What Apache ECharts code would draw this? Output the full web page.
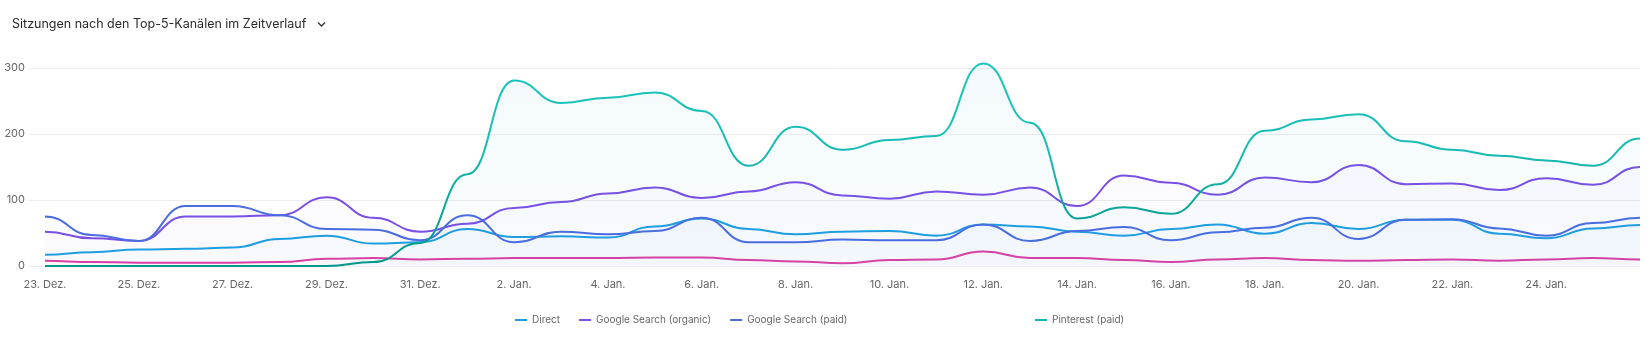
<!DOCTYPE html>
<html>
<head>
<meta charset="utf-8">
<script src="https://cdn.jsdelivr.net/npm/echarts@6/dist/echarts.min.js"></script>
<style>
html,body{margin:0;padding:0;background:#fff;}
#chart{width:1651px;height:337px;}
</style>
</head>
<body>
<div id="chart"></div>
<script>
const titleText = 'Sitzungen nach den Top-5-Kanälen im Zeitverlauf';
const categories = ['23. Dez.','24. Dez.','25. Dez.','26. Dez.','27. Dez.','28. Dez.','29. Dez.','30. Dez.','31. Dez.',
  '1. Jan.','2. Jan.','3. Jan.','4. Jan.','5. Jan.','6. Jan.','7. Jan.','8. Jan.','9. Jan.','10. Jan.','11. Jan.',
  '12. Jan.','13. Jan.','14. Jan.','15. Jan.','16. Jan.','17. Jan.','18. Jan.','19. Jan.','20. Jan.','21. Jan.',
  '22. Jan.','23. Jan.','24. Jan.','25. Jan.','26. Jan.'];
const yTicks = [0, 100, 200, 300];

const direct   = [17,21,25,26,28,41,46,34,36,56,44,45,43,60,72,56,48,52,53,46,63,60,52,46,56,63,49,65,56,70,70,49,42,57,62];
const organic  = [52,42,38,75,75,77,104,73,52,64,88,97,110,119,103,113,127,107,102,113,108,119,91,137,126,108,134,127,153,124,125,115,133,123,150];
const paid     = [75,47,38,91,91,77,56,55,39,77,36,52,48,53,73,36,36,40,39,39,63,38,53,59,39,51,58,73,41,70,71,57,46,65,73];
const other    = [8,6,5,5,5,6,11,12,10,11,12,12,12,13,13,9,7,4,9,10,22,12,12,9,6,10,12,9,8,9,10,8,10,12,10];
const pinterest= [0,0,0,0,0,0,0,6,35,139,281,247,255,263,235,152,211,176,191,197,307,217,72,89,79,124,205,222,230,189,176,167,160,152,193];

const names = ['Direct','Google Search (organic)','Google Search (paid)','Sonstige','Pinterest (paid)'];
const colors = ['#1d9fe0','#7a4fe4','#4a6ce0','#d940a5','#14b8b0'];
const values = [direct, organic, paid, other, pinterest];

const chart = echarts.init(document.getElementById('chart'), null, {renderer:'canvas'});
const font = 'Inter, "Noto Sans", sans-serif';

function makeRender(vals, idx){
  return function(params, api){
    if (params.dataIndex !== 0) return null;
    const pts = vals.map((v,i)=>api.coord([i, v]));
    let d = 'M' + pts[0][0] + ',' + pts[0][1];
    for (let i = 1; i < pts.length; i++) {
      const p0 = pts[i-1], p1 = pts[i];
      const mx = (p0[0] + p1[0]) / 2;
      d += ' C' + mx + ',' + p0[1] + ' ' + mx + ',' + p1[1] + ' ' + p1[0] + ',' + p1[1];
    }
    const base = api.coord([0, yTicks[0]])[1];
    const top = api.coord([0, yTicks[yTicks.length-1]])[1];
    const areaD = d + ' L' + pts[pts.length-1][0] + ',' + base + ' L' + pts[0][0] + ',' + base + ' Z';
    const c = colors[idx];
    let stroke = c;
    let fill = new echarts.graphic.LinearGradient(0, top, 0, base, [
      {offset:0, color: echarts.color.modifyAlpha(c, 0.045)},
      {offset:1, color: echarts.color.modifyAlpha(c, 0.012)}], true);
    if (idx === 4) {
      stroke = new echarts.graphic.LinearGradient(0, top, 0, base, [
        {offset:0, color:'#1cc6be'},
        {offset:0.4, color:'#17bcb4'},
        {offset:0.65, color:'#0fa99e'},
        {offset:1, color:'#00968a'}], true);
      fill = new echarts.graphic.LinearGradient(0, top, 0, base, [
        {offset:0, color:'rgba(40,165,215,0.05)'},
        {offset:1, color:'rgba(40,165,215,0.02)'}], true);
    }
    return {type:'group', children:[
      {type:'path', shape:{pathData: areaD}, style:{fill: fill, stroke: null}, silent:true},
      {type:'path', shape:{pathData: d}, style:{fill: null, stroke: stroke, lineWidth: 2, lineJoin:'round'}, silent:true}
    ]};
  };
}

const series = values.map((v,i)=>({
  name: names[i], type:'custom', xAxisIndex:1, yAxisIndex:1,
  data: v.map((y,j)=>[j, y]), encode:{x:0, y:1},
  renderItem: makeRender(v, i),
  itemStyle:{color: colors[i]},
  clip:false, z: 2 + i
}));

const legendText = {fontFamily:font, fontSize:10, color:'#666'};
chart.setOption({
  animation:false,
  backgroundColor:'#fff',
  title:{text:titleText, left:12, top:16, padding:0,
    textStyle:{fontFamily:font, fontSize:12.5, fontWeight:'normal', color:'#2a2a2a', lineHeight:16}},
  graphic:[{type:'polyline', shape:{points:[[318,22.5],[321.5,26],[325,22.5]]}, style:{stroke:'#333', lineWidth:1.3, fill:null}}],
  legend:[
    {data:[0,1,2].map(i=>({name:names[i], itemStyle:{color:colors[i]}})), left:515, top:315, padding:0,
     itemWidth:12, itemHeight:2, icon:'rect', itemGap:19, textStyle:legendText},
    {data:[{name:names[4], itemStyle:{color:colors[4]}}], left:1035, top:315, padding:0,
     itemWidth:12, itemHeight:2, icon:'rect', textStyle:legendText}
  ],
  grid:[
    {left:29, right:11, top:68, bottom:71},
    {left:45, right:11, top:68, bottom:71}
  ],
  xAxis:[
    {type:'value', gridIndex:0, show:false, min:0, max:1},
    {type:'category', gridIndex:1, data:categories, boundaryGap:false,
     axisLine:{show:false}, axisTick:{show:false},
     axisLabel:{interval:(i)=> i%2===0 && i<categories.length-1, margin:13, fontFamily:font, fontSize:11, color:'#666'}}
  ],
  yAxis:[
    {type:'value', gridIndex:0, min:yTicks[0], max:yTicks[yTicks.length-1], interval:yTicks[1]-yTicks[0],
     axisLine:{show:false}, axisTick:{show:false},
     axisLabel:{margin:4, fontFamily:font, fontSize:11, color:'#666'},
     splitLine:{lineStyle:{color:'#ececec', width:1}}},
    {type:'value', gridIndex:1, min:yTicks[0], max:yTicks[yTicks.length-1], interval:yTicks[1]-yTicks[0], show:false}
  ],
  series: series
});
</script>
</body>
</html>
